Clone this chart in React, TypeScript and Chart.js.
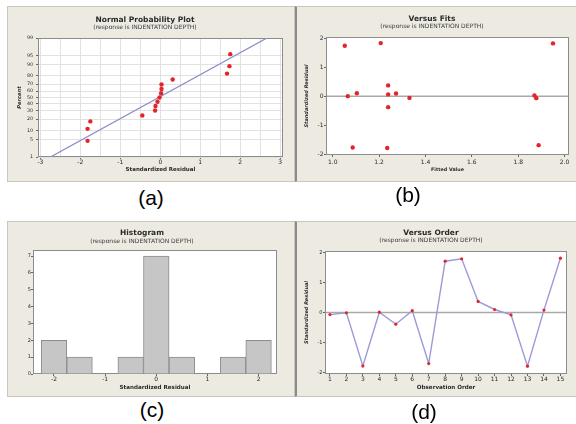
import React, { useEffect, useRef } from 'react';
import { Chart, LinearScale, registerables } from 'chart.js';

// ---------------- data ----------------
// (a) Normal probability plot
const NPP_RESIDUALS = [-1.82, -1.82, -1.75, -0.45, -0.13, -0.12, -0.07, -0.02, 0.02, 0.03, 0.03, 0.31, 1.67, 1.73, 1.75];
const NPP_PERCENTS = [4.5, 11.0, 17.5, 24.0, 30.5, 37.0, 43.5, 50.0, 56.5, 63.0, 69.5, 76.0, 82.5, 89.0, 95.5];
const NPP_FIT_X = [-2.75, 2.67];
const NPP_FIT_PCT = [1, 99];
const NPP_PCT_TICKS = [1, 5, 10, 20, 30, 40, 50, 60, 70, 80, 90, 95, 99];
const NPP_X_GRID = [-3, -2.5, -2, -1.5, -1, -0.5, 0, 0.5, 1, 1.5, 2, 2.5, 3];

// (b) Versus fits
const FITS_X = [1.052, 1.065, 1.086, 1.104, 1.207, 1.235, 1.239, 1.239, 1.239, 1.273, 1.331, 1.87, 1.878, 1.888, 1.95];
const FITS_RES = [1.74, 0.0, -1.77, 0.1, 1.83, -1.79, 0.37, 0.06, -0.38, 0.09, -0.06, 0.02, -0.07, -1.69, 1.82];
const FITS_X_TICKS = [1.0, 1.2, 1.4, 1.6, 1.8, 2.0];
const RES_TICKS = [-2, -1, 0, 1, 2];

// (c) Histogram
const HIST_BIN_CENTERS = [-2, -1.5, -1, -0.5, 0, 0.5, 1, 1.5, 2];
const HIST_COUNTS = [2, 1, 0, 1, 7, 1, 0, 1, 2];
const HIST_X_TICKS = [-2, -1, 0, 1, 2];
const HIST_Y_TICKS = [0, 1, 2, 3, 4, 5, 6, 7];

// (d) Versus order
const ORDER_OBS = [1, 2, 3, 4, 5, 6, 7, 8, 9, 10, 11, 12, 13, 14, 15];
const ORDER_RES = [-0.07, -0.01, -1.78, 0.01, -0.39, 0.06, -1.7, 1.71, 1.79, 0.37, 0.1, -0.08, -1.79, 0.08, 1.81];

const SUBTITLE = '(response is INDENTATION DEPTH)';

// ---------------- styles ----------------
const FONT = "'DejaVu Sans', sans-serif";
const BEIGE = '#edeae2';
const RED = '#e3242b';
const TXT = '#2a2a2a';

// ---------------- probit scale ----------------
function probit(p: number): number {
  const a = [-3.969683028665376e1, 2.209460984245205e2, -2.759285104469687e2, 1.38357751867269e2, -3.066479806614716e1, 2.506628277459239];
  const b = [-5.447609879822406e1, 1.615858368580409e2, -1.556989798598866e2, 6.680131188771972e1, -1.328068155288572e1];
  const c = [-7.784894002430293e-3, -3.223964580411365e-1, -2.400758277161838, -2.549732539343734, 4.374664141464968, 2.938163982698783];
  const d = [7.784695709041462e-3, 3.224671290700398e-1, 2.445134137142996, 3.754408661907416];
  const pl = 0.02425;
  if (p < pl) {
    const q = Math.sqrt(-2 * Math.log(p));
    return (((((c[0] * q + c[1]) * q + c[2]) * q + c[3]) * q + c[4]) * q + c[5]) / ((((d[0] * q + d[1]) * q + d[2]) * q + d[3]) * q + 1);
  }
  if (p <= 1 - pl) {
    const q = p - 0.5;
    const r = q * q;
    return ((((((a[0] * r + a[1]) * r + a[2]) * r + a[3]) * r + a[4]) * r + a[5]) * q) / (((((b[0] * r + b[1]) * r + b[2]) * r + b[3]) * r + b[4]) * r + 1);
  }
  const q = Math.sqrt(-2 * Math.log(1 - p));
  return -(((((c[0] * q + c[1]) * q + c[2]) * q + c[3]) * q + c[4]) * q + c[5]) / ((((d[0] * q + d[1]) * q + d[2]) * q + d[3]) * q + 1);
}

class ProbitScale extends LinearScale {
  static id = 'probit';
  static defaults = {};
  determineDataLimits() {
    const opts: any = this.options;
    this.min = opts.min ?? 1;
    this.max = opts.max ?? 99;
  }
  buildTicks() {
    return [];
  }
  getPixelForValue(value: number) {
    const z0 = probit(this.min / 100);
    const z1 = probit(this.max / 100);
    return this.getPixelForDecimal((probit(value / 100) - z0) / (z1 - z0));
  }
  getValueForPixel(pixel: number) {
    const z0 = probit(this.min / 100);
    const z1 = probit(this.max / 100);
    const z = z0 + this.getDecimalForPixel(pixel) * (z1 - z0);
    let lo = 0.0001, hi = 99.9999;
    for (let i = 0; i < 50; i++) {
      const mid = (lo + hi) / 2;
      if (probit(mid / 100) < z) lo = mid; else hi = mid;
    }
    return (lo + hi) / 2;
  }
}

Chart.register(...registerables, ProbitScale as any);

// ---------------- plot frame plugin ----------------
const plotFrame = {
  id: 'plotFrame',
  beforeDraw(chart: any) {
    const { ctx, chartArea: a } = chart;
    ctx.save();
    ctx.fillStyle = '#ffffff';
    ctx.fillRect(a.left, a.top, a.right - a.left, a.bottom - a.top);
    ctx.restore();
  },
  beforeDatasetsDraw(chart: any, _args: any, opts: any) {
    const { ctx, chartArea: a } = chart;
    ctx.save();
    if (opts && typeof opts.refY === 'number') {
      const y = chart.scales.y.getPixelForValue(opts.refY);
      ctx.strokeStyle = '#a9a9a9';
      ctx.lineWidth = 1.5;
      ctx.beginPath();
      ctx.moveTo(a.left, y);
      ctx.lineTo(a.right, y);
      ctx.stroke();
    }
    ctx.strokeStyle = '#8c8c8c';
    ctx.lineWidth = 1;
    ctx.strokeRect(a.left + 0.5, a.top + 0.5, a.right - a.left - 1, a.bottom - a.top - 1);
    ctx.restore();
  },
};

// ---------------- helpers ----------------
function titles(title: string, padTop: number, subTop: number, subBottom: number) {
  return {
    title: {
      display: true,
      text: title,
      color: TXT,
      font: { family: FONT, size: 7.5, weight: 'bold', lineHeight: 1 },
      padding: { top: padTop, bottom: 0 },
    },
    subtitle: {
      display: true,
      text: SUBTITLE,
      color: '#3a3a3a',
      font: { family: FONT, size: 6, lineHeight: 1 },
      padding: { top: subTop, bottom: subBottom },
    },
  };
}

function axis(opts: {
  min: number; max: number; ticks: number[]; size: number; horizontal: boolean;
  fontSize: number; tickPad: number; label?: (v: number) => string;
  title?: string; titleSize?: number; titlePad?: number; italic?: boolean;
  gridColor?: string; tickColor?: any; type?: string;
}) {
  return {
    type: opts.type ?? 'linear',
    min: opts.min,
    max: opts.max,
    offset: false,
    afterBuildTicks: (s: any) => {
      s.ticks = opts.ticks.map((v) => ({ value: v }));
    },
    afterFit: (s: any) => {
      if (opts.horizontal) s.height = opts.size; else s.width = opts.size;
    },
    ticks: {
      autoSkip: false,
      maxRotation: 0,
      minRotation: 0,
      padding: opts.tickPad,
      color: TXT,
      font: { family: FONT, size: opts.fontSize },
      callback: (v: any) => (opts.label ? opts.label(Number(v)) : String(v)),
    },
    grid: {
      display: true,
      offset: false,
      drawOnChartArea: !!opts.gridColor,
      color: opts.gridColor ?? 'rgba(0,0,0,0)',
      drawTicks: true,
      tickLength: 2,
      tickColor: opts.tickColor ?? '#666',
    },
    border: { display: false },
    title: opts.title
      ? {
          display: true,
          text: opts.title,
          color: TXT,
          font: { family: FONT, size: opts.titleSize ?? 5.5, weight: 'bold', style: opts.italic ? 'italic' : 'normal', lineHeight: 1 },
          padding: opts.horizontal ? { top: 0, bottom: opts.titlePad ?? 0 } : { top: opts.titlePad ?? 0, bottom: 0 },
        }
      : { display: false },
  };
}

const base = (rightPad: number) => ({
  animation: false,
  responsive: false,
  maintainAspectRatio: false,
  devicePixelRatio: 1,
  layout: { padding: { left: 0, right: rightPad, top: 0, bottom: 0 } },
});

// ---------------- configs ----------------
function configA(): any {
  return {
    type: 'scatter',
    data: {
      datasets: [
        {
          type: 'line',
          data: NPP_FIT_X.map((x, i) => ({ x, y: NPP_FIT_PCT[i] })),
          borderColor: '#8b8fca',
          borderWidth: 1.3,
          pointRadius: 0,
          fill: false,
          order: 2,
        },
        {
          data: NPP_RESIDUALS.map((x, i) => ({ x, y: NPP_PERCENTS[i] })),
          backgroundColor: RED,
          borderColor: RED,
          borderWidth: 0,
          pointRadius: 2.2,
          order: 1,
        },
      ],
    },
    options: {
      ...base(12),
      plugins: {
        legend: { display: false },
        tooltip: { enabled: false },
        ...titles('Normal Probability Plot', 10, 1, 7.5),
        plotFrame: {},
      },
      scales: {
        x: axis({
          min: -3.06, max: 3.07, ticks: NPP_X_GRID, size: 25, horizontal: true, fontSize: 6, tickPad: 0,
          label: (v) => (Number.isInteger(v) ? String(v) : ''),
          title: 'Standardized Residual', titleSize: 5.5, titlePad: 9.5,
          gridColor: '#e2e2e2',
          tickColor: (ctx: any) => (Number.isInteger(ctx.tick && ctx.tick.value) ? '#666' : 'rgba(0,0,0,0)'),
        }),
        y: axis({
          type: 'probit', min: 1, max: 99, ticks: NPP_PCT_TICKS, size: 31, horizontal: false, fontSize: 4.8, tickPad: 3,
          title: 'Percent', titleSize: 5.2, titlePad: 10, italic: true, gridColor: '#e2e2e2',
        }),
      },
    },
  };
}

function configB(): any {
  return {
    type: 'scatter',
    data: {
      datasets: [
        {
          data: FITS_X.map((x, i) => ({ x, y: FITS_RES[i] })),
          backgroundColor: RED,
          borderColor: RED,
          borderWidth: 0,
          pointRadius: 2.2,
        },
      ],
    },
    options: {
      ...base(16),
      plugins: {
        legend: { display: false },
        tooltip: { enabled: false },
        ...titles('Versus Fits', 9.5, 0.5, 7.5),
        plotFrame: { refY: 0 },
      },
      scales: {
        x: axis({
          min: 0.971, max: 2.019, ticks: FITS_X_TICKS, size: 27, horizontal: true, fontSize: 6, tickPad: 1.5,
          label: (v) => v.toFixed(1), title: 'Fitted Value', titleSize: 4.8, titlePad: 9.6,
        }),
        y: axis({
          min: -2.03, max: 2.04, ticks: RES_TICKS, size: 31, horizontal: false, fontSize: 6, tickPad: 0.5,
          title: 'Standardized Residual', titleSize: 5, titlePad: 9.2, italic: true,
        }),
      },
    },
  };
}

function configC(): any {
  return {
    type: 'bar',
    data: {
      datasets: [
        {
          data: HIST_BIN_CENTERS.map((x, i) => ({ x, y: HIST_COUNTS[i] })),
          backgroundColor: '#c6c6c6',
          borderColor: '#8c8c8c',
          borderWidth: 1,
          barPercentage: 1,
          categoryPercentage: 1,
        },
      ],
    },
    options: {
      ...base(18),
      plugins: {
        legend: { display: false },
        tooltip: { enabled: false },
        ...titles('Histogram', 8.5, 1.5, 5.5),
        plotFrame: {},
      },
      scales: {
        x: axis({
          min: -2.41, max: 2.36, ticks: HIST_X_TICKS, size: 23, horizontal: true, fontSize: 6, tickPad: 0,
          title: 'Standardized Residual', titleSize: 5.6, titlePad: 6.9,
        }),
        y: axis({
          min: 0, max: 7.36, ticks: HIST_Y_TICKS, size: 26, horizontal: false, fontSize: 5, tickPad: 0,
        }),
      },
    },
  };
}

function configD(): any {
  return {
    type: 'scatter',
    data: {
      datasets: [
        {
          data: ORDER_OBS.map((x, i) => ({ x, y: ORDER_RES[i] })),
          showLine: true,
          borderColor: '#9c9ad8',
          borderWidth: 1.4,
          pointBackgroundColor: RED,
          pointBorderWidth: 0,
          pointRadius: 1.6,
        },
      ],
    },
    options: {
      ...base(18),
      plugins: {
        legend: { display: false },
        tooltip: { enabled: false },
        ...titles('Versus Order', 8.5, 0.7, 7.3),
        plotFrame: { refY: 0 },
      },
      scales: {
        x: axis({
          min: 0.7, max: 15.4, ticks: ORDER_OBS, size: 23, horizontal: true, fontSize: 6, tickPad: 0,
          title: 'Observation Order', titleSize: 5.6, titlePad: 6.9,
        }),
        y: axis({
          min: -2.05, max: 2.05, ticks: RES_TICKS, size: 30, horizontal: false, fontSize: 5, tickPad: 0.5,
          title: 'Standardized Residual', titleSize: 5, titlePad: 9.2, italic: true,
        }),
      },
    },
  };
}

// ---------------- components ----------------
function Panel(props: { left: number; top: number; width: number; height: number; border: any; make: () => any }) {
  const ref = useRef<HTMLCanvasElement>(null);
  useEffect(() => {
    const cfg = props.make();
    cfg.plugins = [plotFrame];
    const chart = new Chart(ref.current as HTMLCanvasElement, cfg);
    return () => chart.destroy();
  }, []);
  return (
    <div
      style={{
        position: 'absolute',
        left: props.left,
        top: props.top,
        width: props.width,
        height: props.height,
        background: BEIGE,
        overflow: 'hidden',
      }}
    >
      <canvas
        ref={ref}
        width={props.width}
        height={props.height}
        style={{ display: 'block', width: props.width, height: props.height }}
      />
      <div
        style={{
          position: 'absolute',
          left: 0,
          top: 0,
          right: 0,
          bottom: 0,
          boxSizing: 'border-box',
          pointerEvents: 'none',
          ...props.border,
        }}
      />
    </div>
  );
}

function Label(props: { text: string; x: number; y: number }) {
  return (
    <div
      style={{
        position: 'absolute',
        left: props.x,
        top: props.y,
        transform: 'translate(-50%, -50%)',
        fontFamily: "'Liberation Sans', Arial, sans-serif",
        fontSize: 21,
        lineHeight: 1,
        color: '#000',
        whiteSpace: 'nowrap',
      }}
    >
      {props.text}
    </div>
  );
}

const LIGHT_BORDER = { border: '1px solid #c9c6bd' };
const DARK_LEFT_BORDER = {
  borderLeft: '2px solid #8b8b8b',
  borderTop: '1px solid #c9c6bd',
  borderBottom: '1px solid #c9c6bd',
};

export default function App() {
  return (
    <div
      style={{
        position: 'absolute',
        left: 0,
        top: 0,
        width: 576,
        height: 424,
        overflow: 'hidden',
        background: '#ffffff',
      }}
    >
      <Panel left={7} top={6} width={288} height={176} border={LIGHT_BORDER} make={configA} />
      <Panel left={295} top={6} width={290} height={176} border={DARK_LEFT_BORDER} make={configB} />
      <Panel left={7} top={221} width={288} height={176} border={LIGHT_BORDER} make={configC} />
      <Panel left={295} top={221} width={290} height={176} border={DARK_LEFT_BORDER} make={configD} />
      <Label text="(a)" x={151} y={197} />
      <Label text="(b)" x={408} y={194} />
      <Label text="(c)" x={152} y={409} />
      <Label text="(d)" x={424} y={411} />
    </div>
  );
}
